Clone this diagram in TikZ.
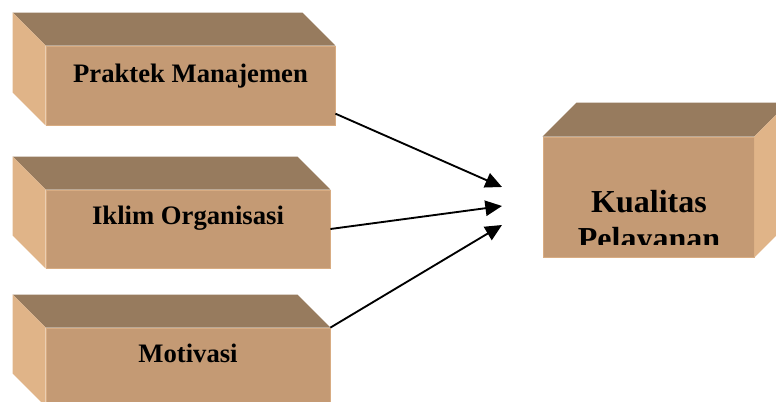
\documentclass[tikz,border=0pt]{standalone}
\usepackage{fontspec}
\setmainfont{Liberation Serif}
\usetikzlibrary{arrows.meta}
\definecolor{topbrown}{RGB}{151,123,94}
\definecolor{frontbrown}{RGB}{196,154,116}
\definecolor{sidebrown}{RGB}{224,180,136}
\tikzset{x=0.75pt, y=-0.75pt, % one unit is one pixel, y grows downwards
front/.style 2 args={ % front face of a box
draw=sidebrown!70!frontbrown,
line width=0.6pt,
fill=frontbrown,
minimum width=#1,
minimum height=#2,
inner sep=0pt},
topface/.style={fill=topbrown}, % the faces seen in depth
sideface/.style={fill=sidebrown},
caption/.style={font=\bfseries\fontsize{20}{24}\selectfont, anchor=base},
bigcaption/.style={font=\bfseries\fontsize{24}{28}\selectfont, anchor=base},
link/.style={ % Makes edges directed with filled heads
draw,
-{Triangle[length=12.5pt,width=11.5pt]},
line width=1.4pt}}

\begin{document}
\begin{tikzpicture}
\clip (0,0) rectangle (776,402);
\node[front={216.75pt}{59.25pt}] (praktek) at (190.5,85.5) {};
\node[front={213pt}{58.5pt}] (iklim) at (188,229) {};
\node[front={213pt}{58.5pt}] (motivasi) at (188,367) {};
\node[front={158.25pt}{90pt}] (kualitas) at (648.5,197) {};
\foreach \b in {praktek,iklim,motivasi}{
\fill[topface] (\b.north west) -- ++(-33,-33) -- ([shift={(-33,-33)}]\b.north east) -- (\b.north east) -- cycle;
\fill[sideface] (\b.north west) -- ++(-33,-33) -- ([shift={(-33,-33)}]\b.south west) -- (\b.south west) -- cycle;
}
\fill[topface] (kualitas.north west) -- ++(34,-34) -- ([shift={(34,-34)}]kualitas.north east) -- (kualitas.north east) -- cycle;
\fill[sideface] (kualitas.north east) -- ++(34,-34) -- ([shift={(34,-34)}]kualitas.south east) -- (kualitas.south east) -- cycle;
\node[caption] (praktek-text) at (190.5,83) {Praktek Manajemen};
\node[caption] (iklim-text) at (188,225) {Iklim Organisasi};
\node[caption] (motivasi-text) at (188,363) {Motivasi};
\node[bigcaption] (kualitas-text) at (649,213) {Kualitas};
\begin{scope}
\clip (kualitas.north west) rectangle (754,245);
\node[bigcaption] (pelayanan-text) at (649,250) {Pelayanan};
\end{scope}
\coordinate (tip1) at (502,187);
\coordinate (tip2) at (502,206);
\coordinate (tip3) at (502,225);
\draw (praktek.-11) edge[link] (tip1)
(iklim.east) edge[link] (tip2)
(motivasi.north east) edge[link] (tip3);
\end{tikzpicture}
\end{document}
